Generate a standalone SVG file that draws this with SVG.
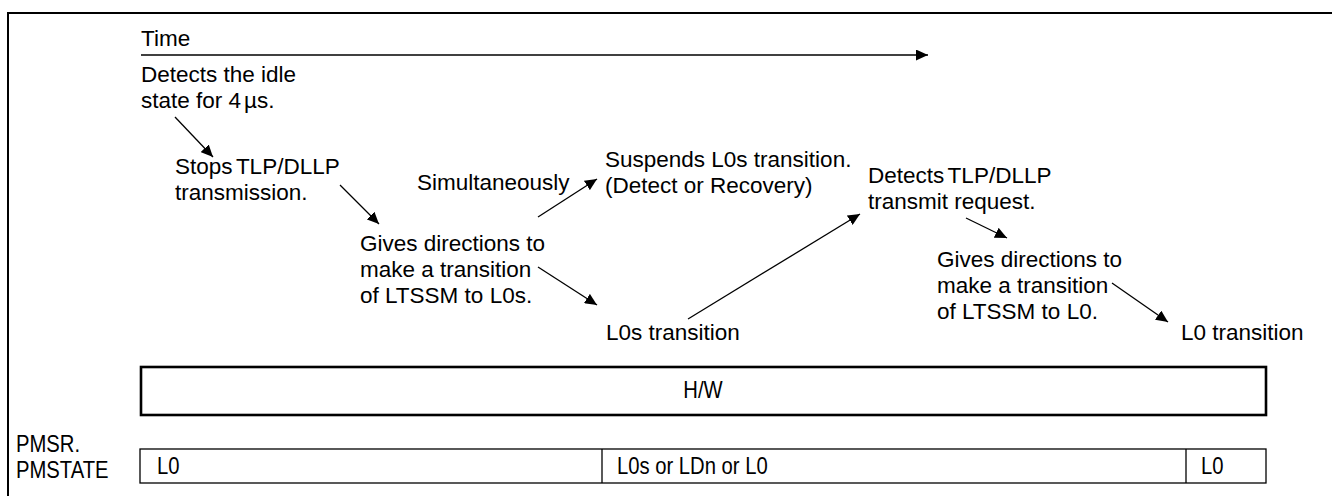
<svg xmlns="http://www.w3.org/2000/svg" width="1332" height="496" viewBox="0 0 1332 496">
<style>
text{font-family:"Liberation Sans",Arial,sans-serif;font-size:22.5px;fill:#000}
.nb{font-size:23px}
.tk{word-spacing:-2.5px}
.ln{stroke:#000;stroke-width:1.3;fill:none}
.box{fill:#fff;stroke:#000}
</style>
<defs>
<marker id="ah" viewBox="0 0 12 11" refX="12" refY="5.5" markerWidth="12" markerHeight="11" markerUnits="userSpaceOnUse" orient="auto">
<path d="M0,0 L12,5.5 L0,11 Z" fill="#000"/>
</marker>
</defs>
<rect x="8" y="13" width="1340" height="500" fill="none" stroke="#000" stroke-width="2"/>
<g id="time"><text x="141" y="46">Time</text></g>
<g id="n1"><text x="141" y="82">Detects the idle</text><text x="141" y="108">state for 4<tspan dx="3">µs.</tspan></text></g>
<g id="n2"><text class="tk" x="175" y="174">Stops TLP/DLLP</text><text x="175" y="200">transmission.</text></g>
<g id="n3"><text x="417" y="190">Simultaneously</text></g>
<g id="n4"><text x="605" y="167">Suspends L0s transition.</text><text x="605" y="193">(Detect or Recovery)</text></g>
<g id="n5"><text x="360" y="251">Gives directions to</text><text x="360" y="277">make a transition</text><text x="360" y="303">of LTSSM to L0s.</text></g>
<g id="n6"><text x="606" y="340">L0s transition</text></g>
<g id="n7"><text class="tk" x="868" y="183">Detects TLP/DLLP</text><text x="868" y="209">transmit request.</text></g>
<g id="n8"><text x="937" y="267">Gives directions to</text><text x="937" y="293">make a transition</text><text x="937" y="319">of LTSSM to L0.</text></g>
<g id="n9"><text x="1181" y="340">L0 transition</text></g>
<g id="hw"><rect class="box" x="141" y="367" width="1125" height="48" stroke-width="2.6"/><text class="nb" transform="translate(703,398) scale(0.88,1)" text-anchor="middle">H/W</text></g>
<g id="pmlabel"><text class="nb" transform="translate(16,452) scale(0.88,1)">PMSR.</text><text class="nb" transform="translate(16,478) scale(0.88,1)">PMSTATE</text></g>
<g id="pmstate">
<rect class="box" x="140" y="449" width="1126" height="34" stroke-width="1.3"/>
<line class="ln" x1="602" y1="449" x2="602" y2="483"/>
<line class="ln" x1="1186" y1="449" x2="1186" y2="483"/>
<text class="nb" transform="translate(157,474) scale(0.88,1)">L0</text>
<text class="nb" transform="translate(617,474) scale(0.88,1)">L0s or LDn or L0</text>
<text class="nb" transform="translate(1201,474) scale(0.88,1)">L0</text>
</g>
<g id="connectors">
<line class="ln" x1="141" y1="55" x2="928" y2="55" stroke-width="1.7" marker-end="url(#ah)"/>
<line class="ln" x1="175" y1="117" x2="213" y2="157" marker-end="url(#ah)"/>
<line class="ln" x1="340" y1="185" x2="379" y2="224" marker-end="url(#ah)"/>
<line class="ln" x1="538" y1="217" x2="597" y2="179" marker-end="url(#ah)"/>
<line class="ln" x1="538" y1="267" x2="597" y2="305" marker-end="url(#ah)"/>
<line class="ln" x1="688" y1="319" x2="860" y2="214" marker-end="url(#ah)"/>
<line class="ln" x1="966" y1="218" x2="1007" y2="238" marker-end="url(#ah)"/>
<line class="ln" x1="1112" y1="283" x2="1168" y2="322" marker-end="url(#ah)"/>
</g>
</svg>
